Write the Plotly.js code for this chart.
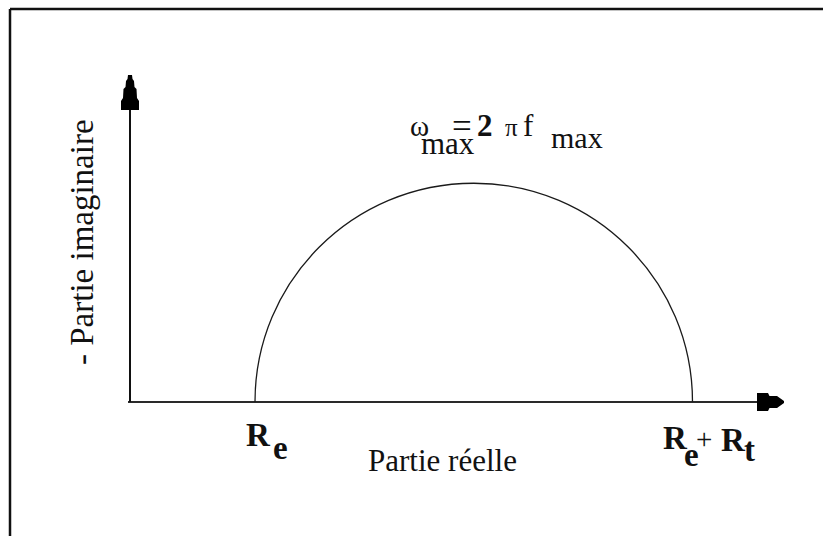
<!DOCTYPE html>
<html>
<head>
<meta charset="utf-8">
<script src="https://cdn.plot.ly/plotly-3.0.1.min.js"></script>
<style>
  html, body { margin: 0; padding: 0; background: #fff; }
  #plot { width: 823px; height: 536px; }
</style>
</head>
<body>
<div id="plot"></div>
<script>
// Nyquist diagram of an electrochemical cell: R_e in series with (R_t // C).
// Resistances in arbitrary units.
const Re = 1;      // electrolyte resistance
const Rt = 3.5;    // charge-transfer resistance
const interceptNames = ['Re', 'Re + Rt'];
const interceptValues = [Re, Re + Rt];

const W = 823, H = 536;
const UNIT = 125;                 // pixels per unit, equal on both axes
const ORIGIN_X = 130, ORIGIN_Y = 402;
const xRange = [-ORIGIN_X / UNIT, (W - ORIGIN_X) / UNIT];
const yRange = [-(H - ORIGIN_Y) / UNIT, ORIGIN_Y / UNIT];

const xAxisEnd = 5.016;           // where the arrowhead of the real axis begins
const yAxisEnd = 2.336;           // where the arrowhead of the imaginary axis begins

// semicircle between the two real-axis intercepts (two cubic quarter arcs)
const a = interceptValues[0], b = interceptValues[1];
const c = (a + b) / 2;
const r = (b - a) / 2;
const k = 0.5523 * r;
const arcPath = `M${a},0 C${a},${k} ${c - k},${r} ${c},${r} C${c + k},${r} ${b},${k} ${b},0`;

const INK = '#111';
const FONT = 'Liberation Serif, Times New Roman, serif';

// text piece placed by its left edge and baseline, in page pixels
function piece(text, left, baseline, size, bold, extra) {
  return Object.assign({
    xref: 'paper', yref: 'paper',
    x: (left - 1) / W,
    y: 1 - (baseline - 1 - 0.891 * size) / H,
    xanchor: 'left', yanchor: 'top',
    showarrow: false,
    text: bold ? '<b>' + text + '</b>' : text,
    font: { family: FONT, size: size, color: INK }
  }, extra || {});
}

const annotations = [
  // intercept labels
  piece('R', 245, 445, 33, true),
  piece('e', 272, 458, 33, true),
  piece('R', 662, 448, 33, true),
  piece('e', 683, 465, 33, true),
  piece('+', 695, 448, 29, false),
  piece('R', 720, 450, 33, true),
  piece('t', 743, 460, 33, true),
  // axis titles
  piece('Partie réelle', 367, 470, 31, false),
  {
    xref: 'paper', yref: 'paper', x: 82 / W, y: 1 - 242 / H,
    xanchor: 'center', yanchor: 'middle', textangle: -90, showarrow: false,
    text: '- Partie imaginaire',
    font: { family: FONT, size: 33, color: INK }
  },
  // angular frequency at the top of the arc
  piece('ω', 409, 135, 29, false),
  piece('max', 420, 153, 31, false),
  piece('=', 451, 137, 35, false),
  piece('2', 476, 135, 31, true),
  piece('π', 504, 135, 25, false),
  piece('f', 522, 135, 31, false),
  piece('max', 550, 147, 30, false)
];

const shapes = [
  // outer frame
  { type: 'line', xref: 'paper', yref: 'paper', x0: 10 / W, y0: 1 - 9 / H, x1: 1, y1: 1 - 9 / H,
    line: { color: INK, width: 2.5 } },
  { type: 'line', xref: 'paper', yref: 'paper', x0: 10 / W, y0: 1 - 9 / H, x1: 10 / W, y1: 0,
    line: { color: INK, width: 2.5 } },
  // real axis
  { type: 'line', xref: 'x', yref: 'y', x0: -0.016, y0: 0, x1: xAxisEnd, y1: 0,
    line: { color: '#2a2a2a', width: 2 } },
  // imaginary axis
  { type: 'line', xref: 'x', yref: 'y', x0: 0, y0: 0, x1: 0, y1: yAxisEnd,
    line: { color: INK, width: 2 } },
  // arrowheads
  { type: 'path', xref: 'x', yref: 'y', xsizemode: 'pixel', ysizemode: 'pixel',
    xanchor: 0, yanchor: yAxisEnd,
    path: 'M-9,0 L9,0 L9,9 L7,12 L6.5,21 L4.5,23 L4,29 L2.5,31 L2,35 L-2,35 L-2.5,31 L-4,29 L-4.5,23 L-6.5,21 L-7,12 L-9,9 Z',
    fillcolor: '#000', line: { width: 0 } },
  { type: 'path', xref: 'x', yref: 'y', xsizemode: 'pixel', ysizemode: 'pixel',
    xanchor: xAxisEnd, yanchor: 0,
    path: 'M0,9 L11,9 L12.5,6 L20,6 L27,1 L27,-1 L20,-6 L12.5,-6 L11,-9 L0,-9 Z',
    fillcolor: '#000', line: { width: 0 } },
  // impedance arc
  { type: 'path', xref: 'x', yref: 'y', path: arcPath,
    line: { color: '#1a1a1a', width: 1.3 } }
];

const hiddenAxis = {
  visible: false, showgrid: false, zeroline: false, showticklabels: false, fixedrange: true
};

const layout = {
  width: W, height: H,
  margin: { l: 0, r: 0, t: 0, b: 0, pad: 0 },
  paper_bgcolor: '#fff', plot_bgcolor: '#fff',
  showlegend: false,
  xaxis: Object.assign({ range: xRange }, hiddenAxis),
  yaxis: Object.assign({ range: yRange }, hiddenAxis),
  shapes: shapes,
  annotations: annotations
};

// intercept points (invisible markers keep the axes anchored to the data)
const traces = [{
  type: 'scatter', mode: 'markers',
  x: interceptValues, y: [0, 0], text: interceptNames,
  marker: { size: 1, color: 'rgba(0,0,0,0)' }, hoverinfo: 'skip'
}];

Plotly.newPlot('plot', traces, layout, { staticPlot: true, displayModeBar: false });
</script>
</body>
</html>
